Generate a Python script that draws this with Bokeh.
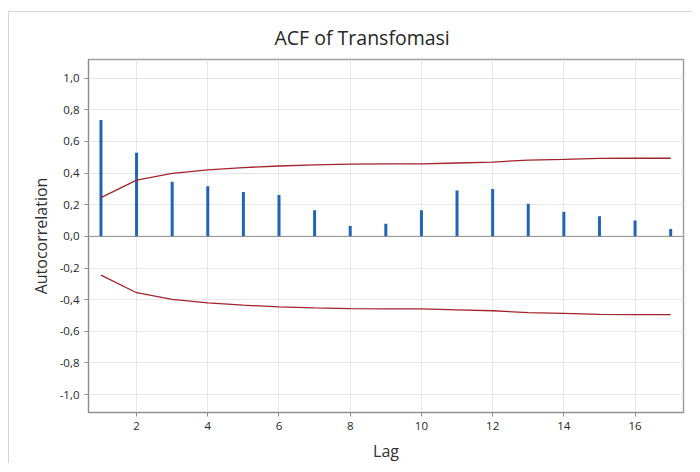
from bokeh.plotting import figure
from bokeh.models import FixedTicker, CustomJSTickFormatter, Span, Range1d, Title
from bokeh.embed import file_html
from bokeh.resources import INLINE

lags = list(range(1, 18))
acf = [0.735, 0.528, 0.346, 0.317, 0.280, 0.262, 0.165, 0.065, 0.080, 0.166,
       0.290, 0.300, 0.207, 0.155, 0.128, 0.100, 0.046]
upper = [0.245, 0.356, 0.398, 0.420, 0.435, 0.445, 0.452, 0.457, 0.458, 0.458,
         0.464, 0.470, 0.482, 0.487, 0.493, 0.494, 0.494]
lower = [-u for u in upper]
xticks = [2, 4, 6, 8, 10, 12, 14, 16]
yticks = [-1.0, -0.8, -0.6, -0.4, -0.2, 0.0, 0.2, 0.4, 0.6, 0.8, 1.0]

FONT = "Open Sans"

p = figure(width=684, height=452, output_backend="svg", toolbar_location=None,
           x_range=Range1d(0.65, 17.36), y_range=Range1d(-1.113, 1.118),
           min_border_left=79, min_border_right=10, min_border_top=44,
           min_border_bottom=42)
p.styles = {"border-top": "1px solid #d6d6d6", "border-left": "1px solid #d6d6d6",
            "margin-top": "11px", "margin-left": "8px"}

p.title = Title(text="ACF of Transfomasi", align="left", offset=186, standoff=18,
                text_font=FONT, text_font_size="19.5px", text_font_style="normal",
                text_color="#262626")

p.outline_line_color = "#a0a0a0"
p.outline_line_width = 1.5

for ax in (p.xaxis, p.yaxis):
    ax.axis_line_color = "#8c8c8c"
    ax.major_tick_line_color = "#8c8c8c"
    ax.minor_tick_line_color = None
    ax.major_tick_out = 4
    ax.major_tick_in = 0
    ax.major_label_text_font = FONT
    ax.major_label_text_font_size = "11.5px"
    ax.major_label_text_color = "#262626"
    ax.axis_label_text_font = FONT
    ax.axis_label_text_font_size = "16px"
    ax.axis_label_text_font_style = "normal"
    ax.axis_label_text_color = "#303030"

p.xaxis.axis_label = "Lag"
p.yaxis.axis_label = "Autocorrelation"
p.xaxis.ticker = FixedTicker(ticks=xticks)
p.yaxis.ticker = FixedTicker(ticks=yticks)
p.yaxis.formatter = CustomJSTickFormatter(code="""
    if (Math.abs(tick) < 1e-9) { return '0,0'; }
    return tick.toFixed(1).replace('.', ',');
""")
p.xaxis.axis_label_standoff = 7
p.yaxis.axis_label_standoff = 5

p.xgrid.ticker = FixedTicker(ticks=xticks)
p.ygrid.ticker = FixedTicker(ticks=yticks)
p.grid.grid_line_color = "#e6e6e6"
p.grid.grid_line_width = 1

p.add_layout(Span(location=0, dimension="width", line_color="#8c8c8c", line_width=1))

p.segment(x0=lags, y0=[0] * len(lags), x1=lags, y1=acf,
          line_color="#1f65b7", line_width=3)
p.line(lags, upper, line_color="#a3232a", line_width=1.3)
p.line(lags, lower, line_color="#a3232a", line_width=1.3)

open("out.html", "w").write(file_html(p, INLINE))
